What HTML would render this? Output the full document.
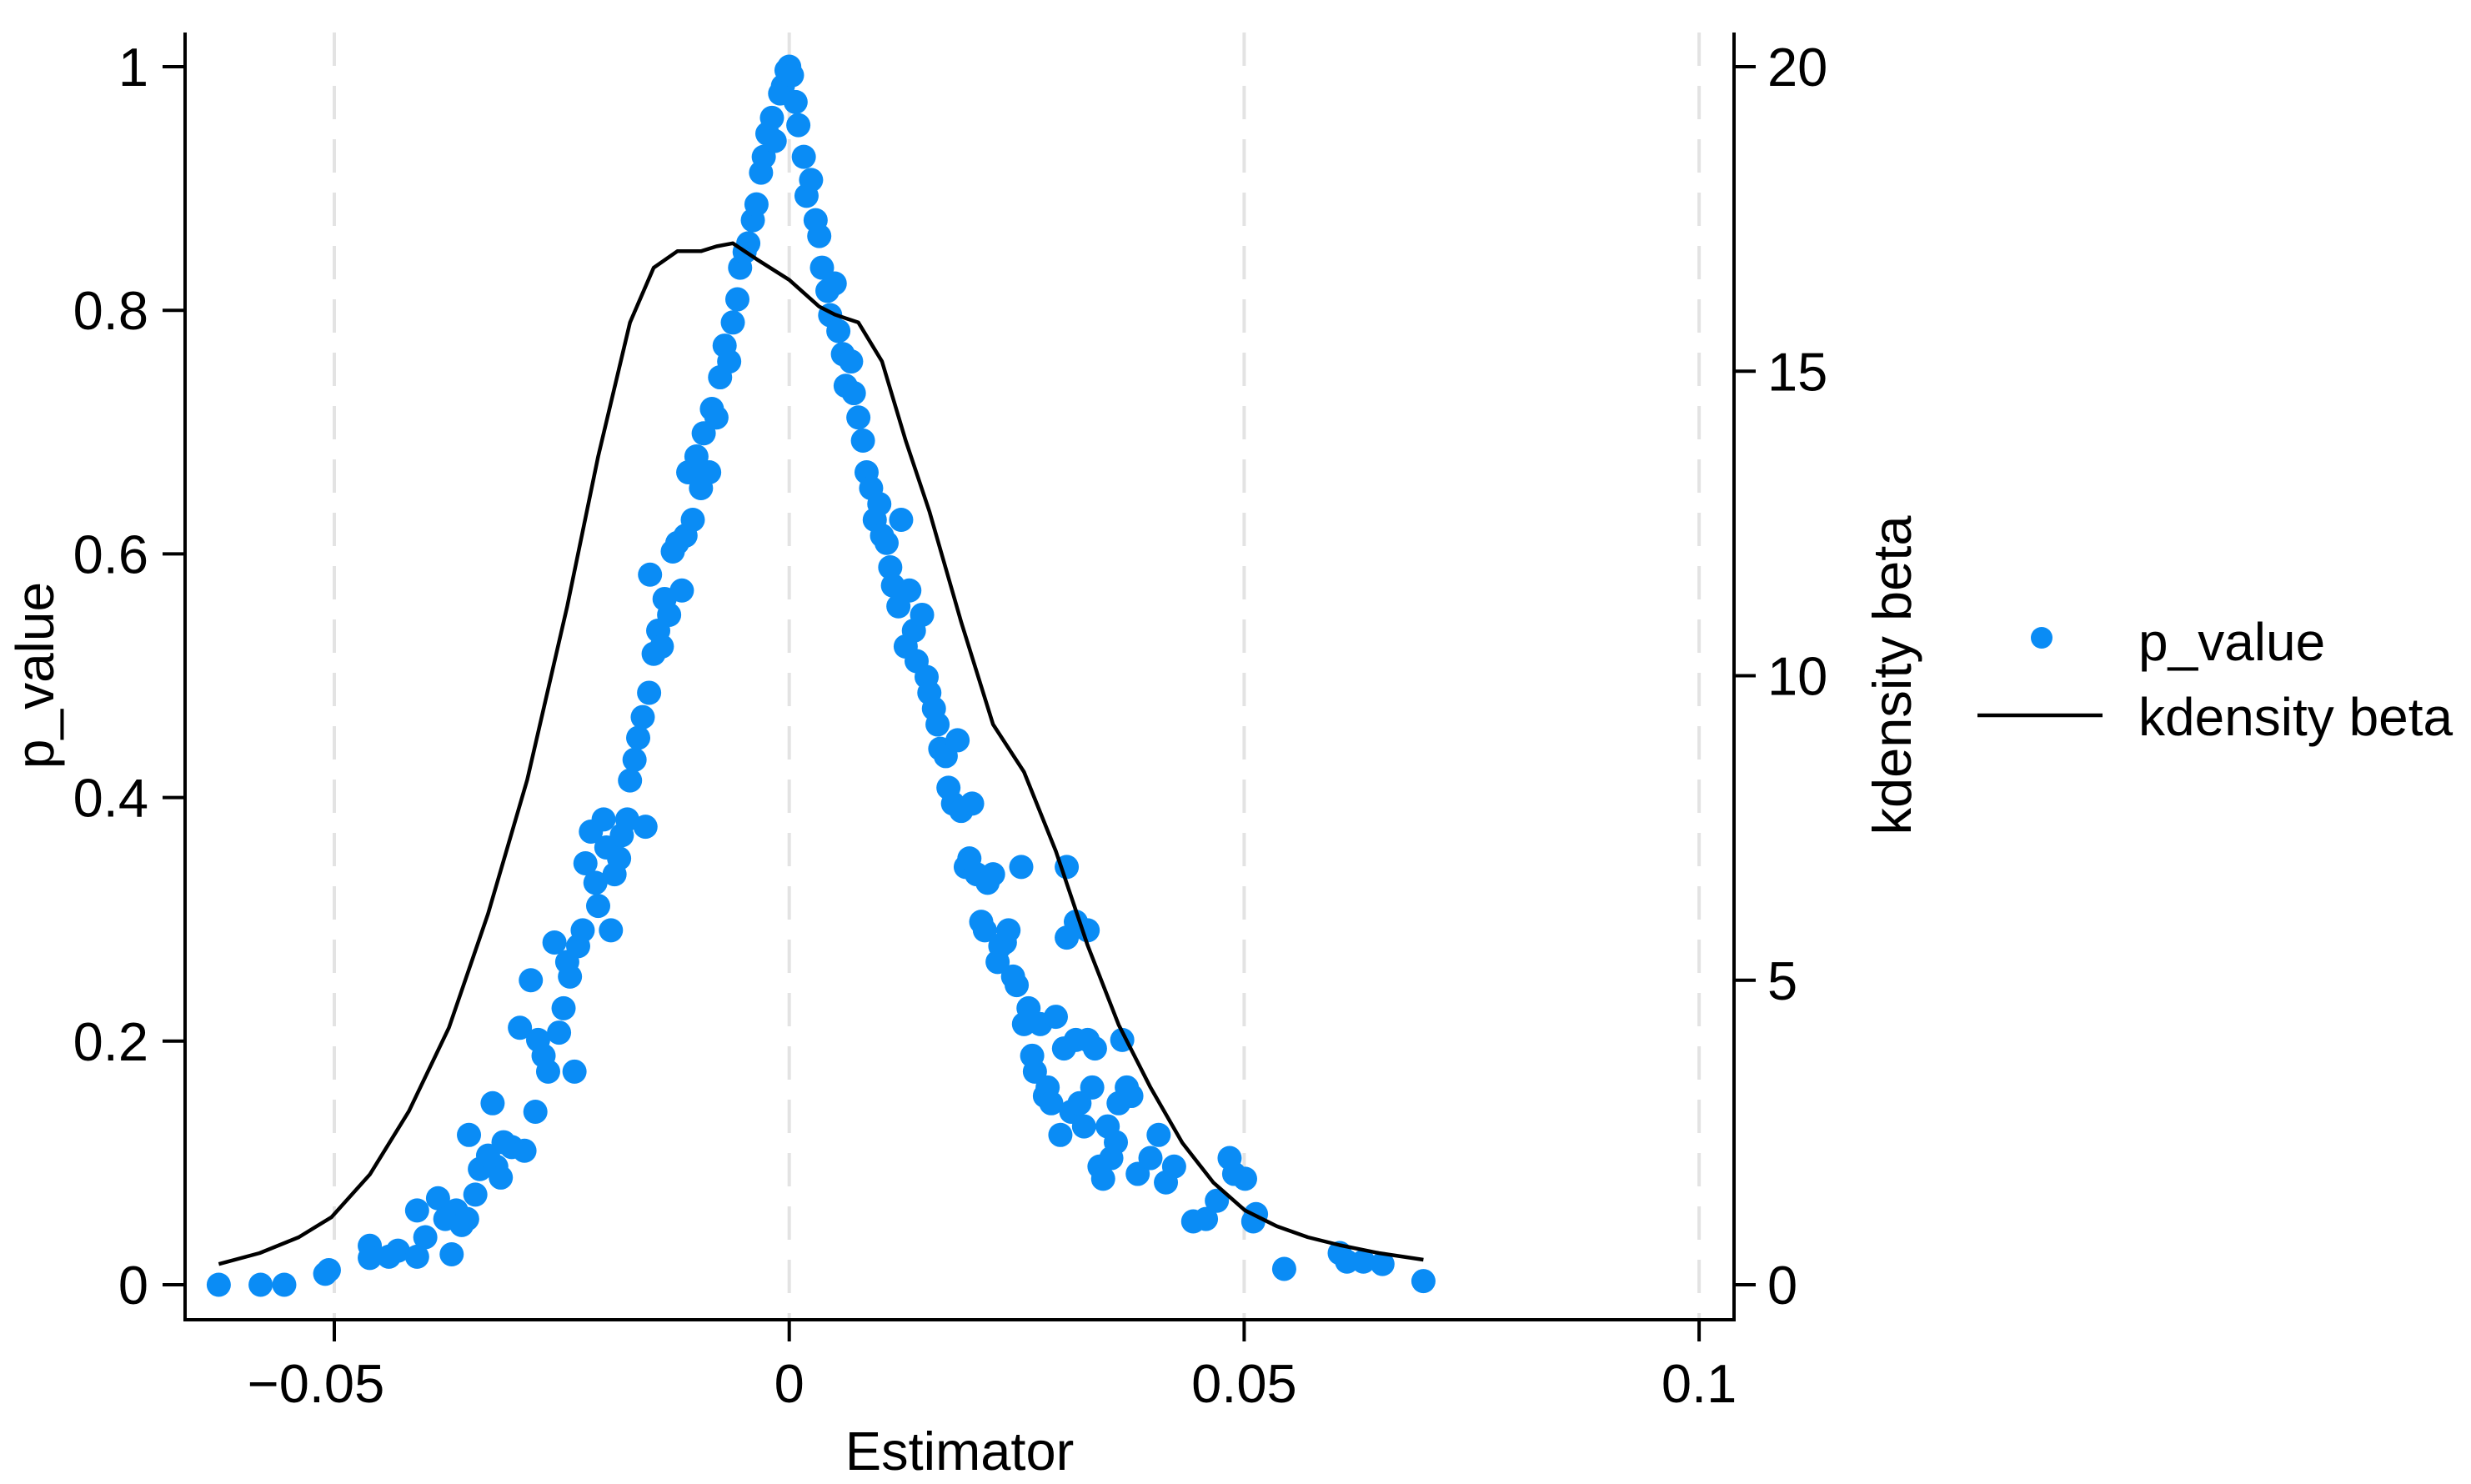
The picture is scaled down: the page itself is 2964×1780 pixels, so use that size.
<!DOCTYPE html>
<html><head><meta charset="utf-8"><style>
html,body{margin:0;padding:0;background:#fff}
svg{display:block;font-family:"Liberation Sans",Arial,sans-serif}
</style></head><body>
<svg id="chart" width="2964" height="1780" viewBox="0 0 2964 1780">
<g id="grid"></g>
<g id="plot"></g>
<g id="axes"></g>
<text x="64" y="810" transform="rotate(-90 64 810)" text-anchor="middle" font-size="64">p_value</text>
<text x="2292" y="810" transform="rotate(-90 2292 810)" text-anchor="middle" font-size="65">kdensity beta</text>
<text x="1151" y="1763" text-anchor="middle" font-size="65">Estimator</text>
<g>
<g>
<circle cx="2449" cy="765" r="13" fill="#0a8cf5"/>
<text x="2565" y="792" font-size="64">p_value</text></g>
<g>
<line x1="2372" y1="858" x2="2522" y2="858" stroke="#000" stroke-width="4.5"/>
<text x="2565" y="882" font-size="64">kdensity beta</text></g>
</g>
</svg>
<script>
const xTicks=[-0.05,0,0.05,0.1];
const xTickLabels=["\u22120.05","0","0.05","0.1"];
const yTicks=[0,0.2,0.4,0.6,0.8,1];
const yTickLabels=["0","0.2","0.4","0.6","0.8","1"];
const y2Ticks=[0,5,10,15,20];
const y2TickLabels=["0","5","10","15","20"];
const densX=[-0.0627,-0.0582,-0.0539,-0.0503,-0.0461,-0.0418,-0.0374,-0.0331,-0.0288,-0.0244,-0.0210,-0.0175,-0.0149,-0.0123,-0.0097,-0.0080,-0.0062,-0.0036,0,0.0033,0.0050,0.0076,0.0102,0.0128,0.0154,0.0189,0.0224,0.0258,0.0293,0.0328,0.0362,0.0397,0.0432,0.0466,0.0501,0.0536,0.0570,0.0605,0.0648,0.0697];
const densY=[0.34,0.52,0.78,1.11,1.81,2.85,4.22,6.09,8.29,11.14,13.6,15.8,16.7,16.97,16.97,17.05,17.1,16.84,16.5,16.06,15.93,15.8,15.16,13.86,12.7,10.88,9.2,8.42,7.12,5.57,4.27,3.24,2.33,1.68,1.22,0.96,0.78,0.65,0.52,0.41];
const pX=[-0.0627,-0.0581,-0.0555,-0.0510,-0.0506,-0.0461,-0.0461,-0.0440,-0.0430,-0.0409,-0.0409,-0.0400,-0.0386,-0.0378,-0.0371,-0.0366,-0.0360,-0.0354,-0.0352,-0.0345,-0.0340,-0.0331,-0.0326,-0.0322,-0.0317,-0.0314,-0.0305,-0.0296,-0.0291,-0.0284,-0.0279,-0.0276,-0.0270,-0.0265,-0.0258,-0.0253,-0.0248,-0.0244,-0.0241,-0.0236,-0.0232,-0.0227,-0.0224,-0.0218,-0.0213,-0.0210,-0.0204,-0.0201,-0.0196,-0.0192,-0.0187,-0.0184,-0.0178,-0.0175,-0.0170,-0.0166,-0.0161,-0.0158,-0.0154,-0.0153,-0.0149,-0.0144,-0.0140,-0.0137,-0.0132,-0.0128,-0.0123,-0.0118,-0.0114,-0.0111,-0.0106,-0.0102,-0.0097,-0.0094,-0.0088,-0.0085,-0.0080,-0.0076,-0.0071,-0.0066,-0.0062,-0.0057,-0.0054,-0.0049,-0.0045,-0.0040,-0.0036,-0.0031,-0.0028,-0.0024,-0.0019,-0.0016,-0.0010,-0.0007,-0.0003,0,
0.0003,0.0007,0.0010,0.0016,0.0019,0.0024,0.0029,0.0033,0.0036,0.0042,0.0045,0.0050,0.0054,0.0059,0.0062,0.0068,0.0071,0.0076,0.0081,0.0085,0.0090,0.0094,0.0099,0.0102,0.0107,0.0111,0.0114,0.0120,0.0123,0.0128,0.0132,0.0137,0.0140,0.0146,0.0151,0.0154,0.0159,0.0163,0.0166,0.0172,0.0175,0.0180,0.0185,0.0189,0.0194,0.0198,0.0201,0.0206,0.0211,0.0215,0.0218,0.0224,0.0229,0.0232,0.0237,0.0241,0.0246,0.0250,0.0255,0.0258,0.0263,0.0267,0.0270,0.0276,0.0281,0.0284,0.0288,0.0293,0.0298,0.0302,0.0305,0.0305,0.0310,0.0315,0.0315,0.0319,0.0324,0.0328,0.0328,0.0333,0.0336,0.0341,0.0345,0.0350,0.0354,0.0359,0.0362,0.0366,0.0371,0.0376,0.0383,0.0397,0.0406,0.0414,0.0423,0.0444,0.0458,0.0470,0.0484,0.0489,0.0501,0.0510,0.0513,0.0544,0.0605,0.0613,0.0631,0.0652,0.0697];
const pY=[0,0,0,0.009,0.012,0.032,0.022,0.023,0.028,0.023,0.061,0.039,0.071,0.054,0.025,0.061,0.049,0.054,0.123,0.074,0.095,0.106,0.149,0.097,0.088,0.117,0.113,0.211,0.110,0.250,0.142,0.201,0.188,0.175,0.281,0.207,0.227,0.265,0.253,0.175,0.278,0.291,0.346,0.372,0.330,0.311,0.382,0.359,0.291,0.337,0.350,0.369,0.382,0.414,0.431,0.449,0.466,0.376,0.486,0.583,0.518,0.537,0.524,0.563,0.550,0.602,0.609,0.570,0.615,0.667,0.628,0.680,0.654,0.699,0.667,0.719,0.712,0.745,0.771,0.758,0.790,0.809,0.835,0.848,0.855,0.874,0.887,0.913,0.926,0.945,0.958,0.939,0.978,0.984,0.997,1.0,
0.993,0.971,0.952,0.926,0.894,0.907,0.874,0.861,0.835,0.816,0.796,0.822,0.783,0.764,0.738,0.758,0.732,0.712,0.693,0.667,0.654,0.628,0.641,0.615,0.609,0.589,0.574,0.557,0.628,0.524,0.570,0.537,0.512,0.550,0.499,0.486,0.473,0.460,0.440,0.434,0.408,0.395,0.447,0.389,0.343,0.350,0.395,0.337,0.298,0.291,0.330,0.337,0.265,0.278,0.281,0.291,0.253,0.246,0.343,0.214,0.227,0.188,0.175,0.214,0.155,0.162,0.149,0.220,0.123,0.194,0.343,0.285,0.142,0.201,0.298,0.149,0.130,0.201,0.291,0.162,0.194,0.097,0.087,0.130,0.104,0.117,0.149,0.201,0.162,0.155,0.091,0.104,0.123,0.084,0.097,0.052,0.054,0.069,0.104,0.091,0.087,0.052,0.058,0.013,0.026,0.019,0.019,0.017,0.003];

const NS="http://www.w3.org/2000/svg";
const X0=946.7, XS=545.7/0.05;
const sx=v=>X0+v*XS;
const Y0=1541, Y1=80;
const sy=v=>Y0-v*(Y0-Y1);
const sy2=v=>Y0-v/20*(Y0-Y1);
const L=222,R=2080,T=39,B=1583;
function mk(tag,attrs,parent){const e=document.createElementNS(NS,tag);for(const k in attrs)e.setAttribute(k,attrs[k]);parent.appendChild(e);return e;}
const grid=document.getElementById('grid'),plot=document.getElementById('plot'),axes=document.getElementById('axes');
xTicks.forEach((t,i)=>{
  const g=mk('line',{x1:sx(t),x2:sx(t),y1:T,y2:B,stroke:'#e3e3e3','stroke-width':4,'stroke-dasharray':'40 24'},grid);
  
  
  const tk=mk('line',{x1:sx(t),x2:sx(t),y1:B,y2:B+26,stroke:'#000','stroke-width':4},axes);
  
  
  const tx=mk('text',{x:sx(t)-(t<0?22:0),y:1682,'text-anchor':'middle','font-size':65},axes);
  tx.textContent=xTickLabels[i];
  
  
});
yTicks.forEach((t,i)=>{
  const tk=mk('line',{x1:L-27,x2:L,y1:sy(t),y2:sy(t),stroke:'#000','stroke-width':4},axes);
  
  
  const tx=mk('text',{x:178,y:sy(t)+23,'text-anchor':'end','font-size':65},axes);
  tx.textContent=yTickLabels[i];
  
  
});
y2Ticks.forEach((t,i)=>{
  const tk=mk('line',{x1:R,x2:R+26,y1:sy2(t),y2:sy2(t),stroke:'#000','stroke-width':4},axes);
  
  
  const tx=mk('text',{x:2120,y:sy2(t)+23,'text-anchor':'start','font-size':65},axes);
  tx.textContent=y2TickLabels[i];
  
  
});
const ax=mk('path',{d:`M${L},${T} V${B} H${R} V${T}`,fill:'none',stroke:'#000','stroke-width':4},axes);


pX.forEach((v,i)=>{
  const c=mk('circle',{cx:sx(v),cy:sy(pY[i]),r:14.5,fill:'#0a8cf5'},plot);
  
  
});
const d=densX.map((v,i)=>(i?'L':'M')+sx(v).toFixed(1)+','+sy2(densY[i]).toFixed(1)).join(' ');
const ln=mk('path',{d:d,fill:'none',stroke:'#000','stroke-width':4.5,'stroke-linejoin':'round'},plot);


</script>
</body></html>
